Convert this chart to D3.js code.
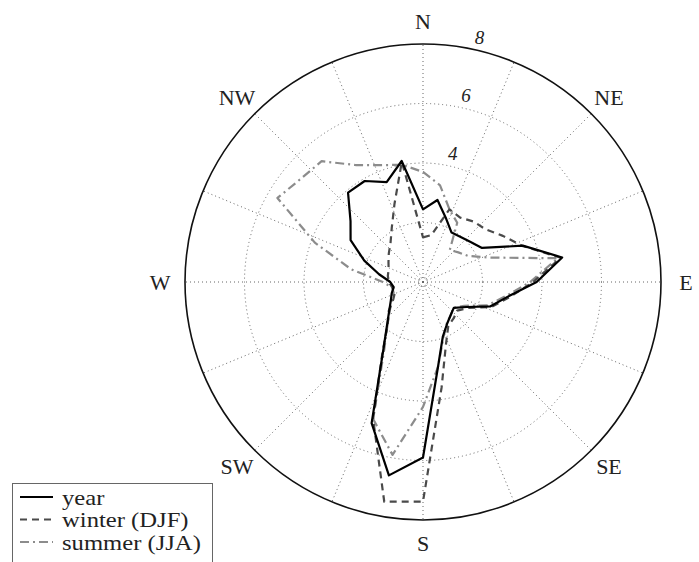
<!DOCTYPE html>
<html>
<head>
<meta charset="utf-8">
<script src="https://cdn.jsdelivr.net/npm/d3@7"></script>
<style>
  body { margin: 0; background: #fff; }
  svg { display: block; }
  .grid { fill: none; stroke: #666; stroke-width: 1; stroke-dasharray: 1,3; }
  .lbl { font-family: "Liberation Serif", "DejaVu Serif", serif; fill: #222; }
</style>
</head>
<body>
<svg id="chart"></svg>
<script>
// Directions of the bins, degrees clockwise from north
var directions = d3.range(0, 360, 10);

// Frequency per direction
var yearVals = [2.44, 2.8, 2.27, 1.92, 1.97, 2.09, 2.29, 3.57, 4.75, 3.82, 2.88, 2.4,
                1.68, 1.35, 1.45, 1.62, 1.95, 2.9, 5.9, 6.6, 5.05, 2.68, 1.88, 1.48,
                1.25, 1.12, 1.0, 1.1, 1.5, 2.1, 2.81, 3.18, 3.92, 3.92, 3.57, 4.13];
var winterVals = [1.5, 1.6, 2.6, 2.5, 2.65, 2.75, 3.1, 3.55, 4.7, 3.7, 2.95, 2.45,
                  1.75, 1.5, 1.6, 1.7, 2.25, 3.6, 7.38, 7.5, 4.9, 2.72, 1.84, 1.5,
                  1.15, 1.0, 1.05, 1.15, 1.2, 1.23, 1.34, 1.5, 1.7, 2.1, 2.8, 4.1];
var summerVals = [3.7, 3.3, 2.6, 2.3, 1.4, 1.55, 1.75, 2.4, 4.6, 3.6, 2.8, 2.3,
                  1.6, 1.35, 1.45, 1.6, 2.0, 2.9, 4.2, 5.9, 4.9, 2.6, 1.85, 1.45,
                  1.2, 1.05, 1.05, 1.35, 2.45, 3.87, 5.65, 5.38, 5.3, 4.54, 4.18, 4.0];

var ringTicks = [2, 4, 6],          // dotted rings
    ringLabels = [4, 6, 8],         // italic ring labels
    rMax = 8,
    compass = ["N", "NE", "E", "SE", "S", "SW", "W", "NW"],
    seriesNames = ["year", "winter (DJF)", "summer (JJA)"];

var w = 699, h = 562,
    cx = 423, cy = 282,
    R = 238;

var svg = d3.select("#chart").attr("width", w).attr("height", h);
var g = svg.append("g").attr("transform", "translate(" + cx + "," + cy + ")");

var r = d3.scaleLinear().domain([0, rMax]).range([0, R]);
var rad = function (deg) { return deg * Math.PI / 180; };

// spokes every 22.5 degrees
g.selectAll(".spoke").data(d3.range(0, 360, 22.5)).enter()
    .append("line")
    .attr("class", "grid spoke")
    .attr("x1", 0).attr("y1", 0)
    .attr("x2", function (d) { return R * Math.sin(rad(d)); })
    .attr("y2", function (d) { return -R * Math.cos(rad(d)); });

// rings
g.selectAll(".ring").data(ringTicks).enter()
    .append("circle")
    .attr("class", "grid ring")
    .attr("r", function (d) { return r(d); });

// tiny circle at the centre
g.append("circle").attr("class", "grid").attr("r", 4.5);

// outer circle
g.append("circle").attr("r", R)
    .style("fill", "none").style("stroke", "#111").style("stroke-width", 1.6);

// ring labels
g.selectAll(".rlab").data(ringLabels).enter()
    .append("text")
    .attr("class", "lbl")
    .attr("x", function (d) { return (r(d) + 13) * Math.sin(rad(13)); })
    .attr("y", function (d) { return -(r(d) + 13) * Math.cos(rad(13)); })
    .attr("text-anchor", "middle")
    .attr("dy", "0.35em")
    .style("font-size", "19px")
    .style("font-style", "italic")
    .text(function (d) { return d; });

// compass labels
g.selectAll(".clab").data(compass).enter()
    .append("text")
    .attr("class", "lbl")
    .attr("x", function (d, i) { return 263 * Math.sin(rad(i * 45)); })
    .attr("y", function (d, i) { return -261 * Math.cos(rad(i * 45)); })
    .attr("text-anchor", "middle")
    .attr("dy", "0.35em")
    .style("font-size", "22px")
    .text(function (d) { return d; });

// series
var series = [
    { name: seriesNames[2], vals: summerVals, color: "#8c8c8c", dash: "9,4,2,4" },
    { name: seriesNames[1], vals: winterVals, color: "#4a4a4a", dash: "7,5" },
    { name: seriesNames[0], vals: yearVals, color: "#000", dash: null }
];

var line = d3.lineRadial()
    .angle(function (d, i) { return rad(directions[i]); })
    .radius(function (d) { return r(d); })
    .curve(d3.curveLinearClosed);

g.selectAll(".series").data(series).enter()
    .append("path")
    .attr("class", "series")
    .attr("d", function (d) { return line(d.vals); })
    .style("fill", "none")
    .style("stroke", function (d) { return d.color; })
    .style("stroke-width", 2.2)
    .style("stroke-dasharray", function (d) { return d.dash; })
    .style("stroke-linejoin", "round");

// legend
var leg = svg.append("g");
leg.append("rect")
    .attr("x", 12.5).attr("y", 483.5)
    .attr("width", 200).attr("height", 100)
    .style("fill", "#fff").style("stroke", "#666").style("stroke-width", 1);

var legItems = series.slice().reverse();
var li = leg.selectAll(".li").data(legItems).enter()
    .append("g")
    .attr("transform", function (d, i) { return "translate(0," + (497 + i * 22.5) + ")"; });
li.append("line")
    .attr("x1", 20).attr("x2", 53).attr("y1", 0).attr("y2", 0)
    .style("stroke", function (d) { return d.color; })
    .style("stroke-width", 2.2)
    .style("stroke-dasharray", function (d) { return d.dash; });
li.append("text")
    .attr("class", "lbl")
    .attr("transform", "translate(62,0) scale(1.12,1)")
    .attr("dy", "0.35em")
    .style("font-size", "22px")
    .text(function (d) { return d.name; });
</script>
</body>
</html>
